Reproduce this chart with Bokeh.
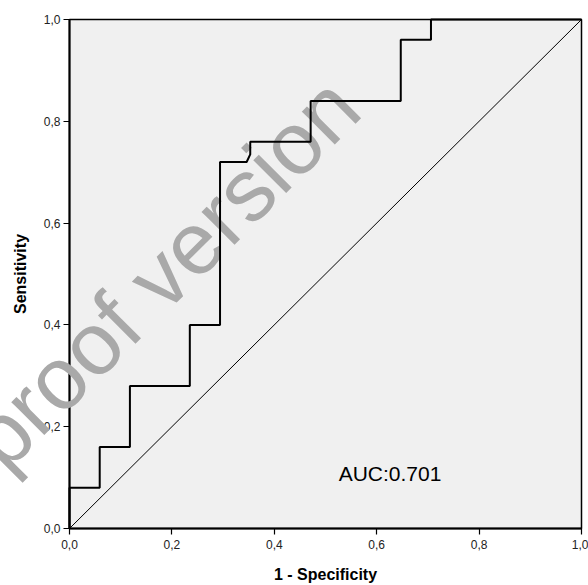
from bokeh.plotting import figure
from bokeh.models import Range1d, FixedTicker, Label
from bokeh.core.properties import value
from bokeh.embed import file_html
from bokeh.resources import INLINE

# ROC curve (1 - specificity, sensitivity)
fpr = [0.0, 0.0, 0.059, 0.059, 0.118, 0.118, 0.235, 0.235, 0.294, 0.294,
       0.346, 0.353, 0.353, 0.471, 0.471, 0.647, 0.647, 0.706, 0.706, 1.0]
tpr = [0.0, 0.08, 0.08, 0.16, 0.16, 0.28, 0.28, 0.40, 0.40, 0.72,
       0.72, 0.735, 0.76, 0.76, 0.84, 0.84, 0.96, 0.96, 1.0, 1.0]
ref_x = [0.0, 1.0]
ref_y = [0.0, 1.0]
ticks = [0.0, 0.2, 0.4, 0.6, 0.8, 1.0]
tick_labels = ["0,0", "0,2", "0,4", "0,6", "0,8", "1,0"]
auc_text = "AUC:0.701"
watermark = "proof version"

FONT = "Liberation Sans"

p = figure(width=588, height=585, output_backend="svg", toolbar_location=None,
           x_range=Range1d(0, 1), y_range=Range1d(0, 1),
           min_border_left=69, min_border_right=7, min_border_top=19,
           min_border_bottom=55)
p.background_fill_color = "#f0f0f0"
p.border_fill_color = "white"
p.outline_line_color = "black"
p.outline_line_width = 1.5
p.grid.visible = False

for ax in (p.xaxis[0], p.yaxis[0]):
    ax.ticker = FixedTicker(ticks=ticks)
    ax.major_label_overrides = {t: l for t, l in zip(ticks, tick_labels)}
    ax.minor_tick_line_color = None
    ax.major_tick_in = 0
    ax.major_tick_out = 6
    ax.major_tick_line_color = "black"
    ax.major_tick_line_width = 1.2
    ax.axis_line_color = "black"
    ax.axis_line_width = 2
    ax.major_label_text_font = FONT
    ax.major_label_text_font_size = "12px"
    ax.major_label_text_color = "#222222"
    ax.axis_label_text_font = FONT
    ax.axis_label_text_font_size = "16px"
    ax.axis_label_text_font_style = "bold"
    ax.axis_label_text_color = "black"

p.xaxis.axis_label = "1 - Specificity"
p.yaxis.axis_label = "Sensitivity"
p.xaxis.major_label_standoff = 5
p.yaxis.major_label_standoff = 3
p.xaxis.axis_label_standoff = 14
p.yaxis.axis_label_standoff = 12
p.yaxis.major_label_orientation = "horizontal"

p.text(x=[0.184], y=[0.503], text=[watermark], angle=45, angle_units="deg",
       text_align="center", text_baseline="alphabetic",
       text_font=value(FONT), text_font_size=value("88px"),
       text_color="#a9a9a9", level="annotation")

p.line(ref_x, ref_y, line_color="black", line_width=1, level="overlay")
p.line(fpr, tpr, line_color="black", line_width=2, level="overlay")

auc = Label(x=0.626, y=0.108, text=auc_text, text_align="center",
            text_baseline="middle", text_font=FONT, text_font_size="21px",
            text_color="black", level="overlay")
p.add_layout(auc)

open("out.html", "w").write(file_html(p, INLINE))
